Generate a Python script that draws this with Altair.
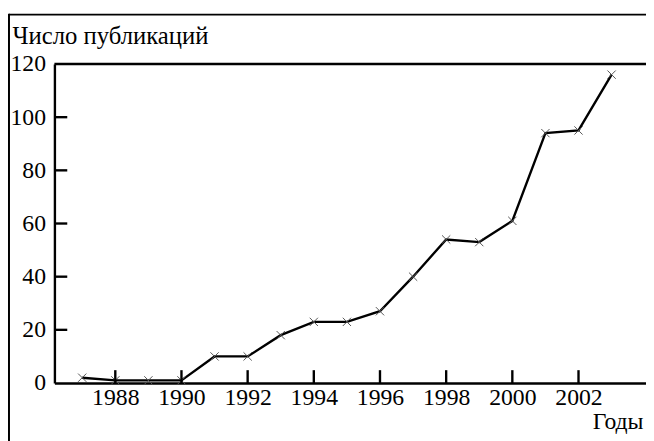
import altair as alt
import pandas as pd

# Data
years = [1987, 1988, 1989, 1990, 1991, 1992, 1993, 1994, 1995, 1996,
         1997, 1998, 1999, 2000, 2001, 2002, 2003]
counts = [2, 1, 1, 1, 10, 10, 18, 23, 23, 27, 40, 54, 53, 61, 94, 95, 116]
x_tick_values = [1988, 1990, 1992, 1994, 1996, 1998, 2000, 2002]
y_tick_values = [0, 20, 40, 60, 80, 100, 120]
y_inner_ticks = [20, 40, 60, 80, 100]
y_title = "Число публикаций"
x_title = "Годы"

W, H = 599, 323
FONT = "Liberation Serif"
FS = 24

df = pd.DataFrame({"year": years, "count": counts})
xs = alt.Scale(domain=[1986.16, 2004.04], nice=False, zero=False)
ys = alt.Scale(domain=[0, 120], nice=False)

x_axis = alt.Axis(
    values=x_tick_values, format="d", title=x_title,
    titleX=W - 3, titleY=46, titleAlign="right", titleBaseline="alphabetic",
    labelPadding=3)
y_axis = alt.Axis(
    values=y_tick_values, title=y_title, titleAngle=0, titleFontSize=25,
    titleX=-43, titleY=-21, titleAlign="left", titleBaseline="alphabetic",
    labelPadding=9)

X = alt.X("year:Q", scale=xs, axis=x_axis)
Y = alt.Y("count:Q", scale=ys, axis=y_axis)

base = alt.Chart(df)

line = base.mark_line(color="black", strokeWidth=2.4).encode(x=X, y=Y)

pts = base.mark_point(shape="M-1,-1L1,1M-1,1L1,-1", size=70, color="#555",
                      strokeWidth=1, filled=False, opacity=1).encode(x=X, y=Y)

xt = alt.Chart(pd.DataFrame({"year": x_tick_values})).mark_rule(
    color="black", strokeWidth=2.4).encode(
    x=X, y=alt.value(H), y2=alt.value(H - 13),
)

yt = alt.Chart(pd.DataFrame({"count": y_inner_ticks})).mark_rule(
    color="black", strokeWidth=2.4).encode(
    y=Y, x=alt.value(0), x2=alt.value(13),
)

one = pd.DataFrame({"a": [0]})
top_line = alt.Chart(one).mark_rule(color="black", strokeWidth=2.4).encode(
    y=alt.value(0), x=alt.value(0), x2=alt.value(W + 30))
frame_top = alt.Chart(one).mark_rule(color="black", strokeWidth=2).encode(
    y=alt.value(-50), x=alt.value(-46), x2=alt.value(W + 30))
frame_left = alt.Chart(one).mark_rule(color="black", strokeWidth=2).encode(
    x=alt.value(-46), y=alt.value(-51), y2=alt.value(H + 120))

chart = alt.layer(line, pts, xt, yt, top_line, frame_top, frame_left).properties(
    width=W, height=H, autosize="none",
    padding={"left": 47, "top": 54, "right": 0, "bottom": 56},
).configure_view(stroke=None).configure_axis(
    domainColor="black", domainWidth=2.4, ticks=False, grid=False,
    labelFont=FONT, labelFontSize=FS, labelColor="black",
    titleFont=FONT, titleFontSize=FS, titleFontWeight="normal", titleColor="black",
)

chart.save("out.html", embed_options={"renderer": "svg", "actions": False})
